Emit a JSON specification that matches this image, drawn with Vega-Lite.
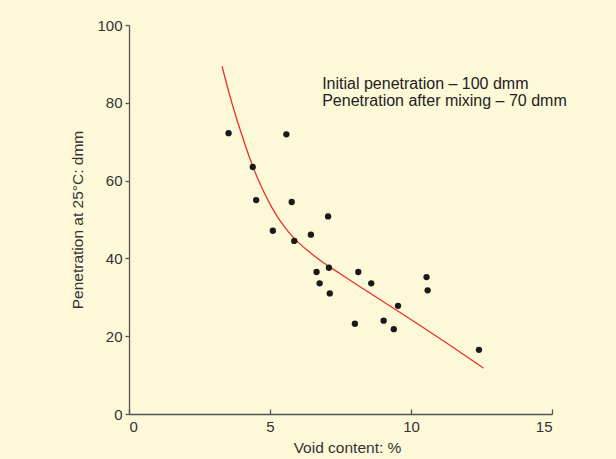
{
  "$schema": "https://vega.github.io/schema/vega-lite/v6.json",
  "width": 423,
  "height": 389,
  "autosize": "none",
  "padding": {"left": 129, "top": 25, "right": 64, "bottom": 45},
  "background": "#fdf9d8",
  "config": {
    "view": {"stroke": null},
    "font": "Liberation Sans",
    "axis": {
      "domainColor": "#555555",
      "tickColor": "#555555",
      "labelColor": "#333333",
      "titleColor": "#333333",
      "labelFont": "Liberation Sans",
      "titleFont": "Liberation Sans",
      "labelFontSize": 15,
      "titleFontSize": 15.5,
      "titleFontWeight": "normal",
      "grid": false,
      "domainWidth": 1.3,
      "tickWidth": 1.3
    }
  },
  "datasets": {
    "points": [
      {"void": 3.53, "pen": 72.2},
      {"void": 4.39, "pen": 63.5},
      {"void": 4.51, "pen": 55.0},
      {"void": 5.58, "pen": 71.9},
      {"void": 5.77, "pen": 54.5},
      {"void": 5.10, "pen": 47.1},
      {"void": 5.86, "pen": 44.5},
      {"void": 6.45, "pen": 46.1},
      {"void": 6.65, "pen": 36.5},
      {"void": 6.76, "pen": 33.6},
      {"void": 7.09, "pen": 37.6},
      {"void": 7.12, "pen": 31.0},
      {"void": 7.06, "pen": 50.8},
      {"void": 8.13, "pen": 36.5},
      {"void": 8.01, "pen": 23.2},
      {"void": 8.59, "pen": 33.6},
      {"void": 9.03, "pen": 24.0},
      {"void": 9.54, "pen": 27.8},
      {"void": 9.39, "pen": 21.8},
      {"void": 10.55, "pen": 35.2},
      {"void": 10.59, "pen": 31.8},
      {"void": 12.41, "pen": 16.5}
    ],
    "curve": [
      {"void": 3.30, "pen": 89.4},
      {"void": 3.55, "pen": 82.5},
      {"void": 3.80, "pen": 76.3},
      {"void": 4.05, "pen": 70.7},
      {"void": 4.30, "pen": 65.4},
      {"void": 4.55, "pen": 60.8},
      {"void": 4.80, "pen": 56.8},
      {"void": 5.05, "pen": 53.3},
      {"void": 5.30, "pen": 50.3},
      {"void": 5.55, "pen": 47.8},
      {"void": 5.80, "pen": 45.6},
      {"void": 6.05, "pen": 43.8},
      {"void": 6.30, "pen": 42.2},
      {"void": 6.80, "pen": 39.4},
      {"void": 7.50, "pen": 36.0},
      {"void": 8.50, "pen": 31.3},
      {"void": 9.50, "pen": 26.6},
      {"void": 10.50, "pen": 21.9},
      {"void": 11.50, "pen": 17.1},
      {"void": 12.57, "pen": 11.8}
    ],
    "notes": [
      {"void": 6.85, "pen": 83.5, "label": "Initial penetration – 100 dmm"},
      {"void": 6.85, "pen": 79.3, "label": "Penetration after mixing – 70 dmm"}
    ]
  },
  "layer": [
    {
      "data": {"name": "curve"},
      "mark": {"type": "line", "color": "#e8322c", "strokeWidth": 1.3, "interpolate": "monotone"},
      "encoding": {
        "x": {
          "field": "void", "type": "quantitative",
          "scale": {"domain": [0, 15], "nice": false},
          "axis": {
            "title": "Void content: %",
            "values": [0, 5, 10, 15],
            "tickSize": -5,
            "labelPadding": 10,
            "titlePadding": 6,
            "titleX": 218
          }
        },
        "y": {
          "field": "pen", "type": "quantitative",
          "scale": {"domain": [0, 100], "nice": false},
          "axis": {
            "title": "Penetration at 25°C: dmm",
            "values": [0, 20, 40, 60, 80, 100],
            "tickSize": 4,
            "labelPadding": 3,
            "titlePadding": 11
          }
        }
      }
    },
    {
      "data": {"name": "points"},
      "mark": {"type": "circle", "color": "#1a1a1a", "opacity": 1, "size": 40},
      "encoding": {
        "x": {"field": "void", "type": "quantitative"},
        "y": {"field": "pen", "type": "quantitative"}
      }
    },
    {
      "data": {"name": "notes"},
      "mark": {"type": "text", "align": "left", "baseline": "alphabetic", "fontSize": 16, "color": "#222222", "font": "Liberation Sans"},
      "encoding": {
        "x": {"field": "void", "type": "quantitative"},
        "y": {"field": "pen", "type": "quantitative"},
        "text": {"field": "label"}
      }
    }
  ]
}
